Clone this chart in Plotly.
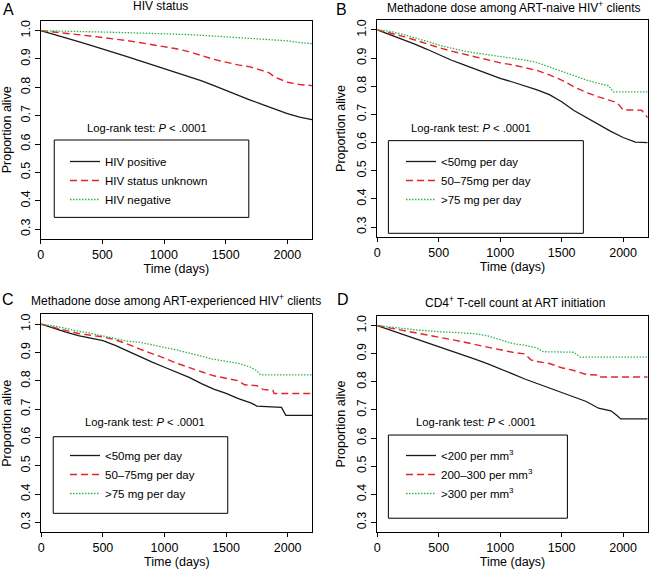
import plotly.graph_objects as go


W, H = 651, 569

# ---- Panel A: HIV status ----
A_POS_T = [0, 100, 200, 300, 400, 500, 600, 700, 800, 900, 1000, 1100, 1200,
           1300, 1400, 1500, 1600, 1700, 1800, 1900, 2000, 2100, 2200]
A_POS_S = [1.0, .988, .975, .962, .949, .936, .922, .908, .894, .880, .866,
           .853, .839, .824, .807, .789, .772, .755, .739, .723, .707, .695, .686]
A_UNK_T = [0, 100, 200, 300, 400, 500, 600, 700, 800, 900, 1000, 1100, 1200,
           1300, 1400, 1500, 1600, 1700, 1800, 1850, 1900, 2000, 2100, 2200]
A_UNK_S = [1.0, .996, .991, .986, .981, .976, .970, .965, .958, .951, .944,
           .936, .926, .913, .899, .889, .879, .872, .860, .852, .836, .818,
           .810, .806]
A_NEG_T = [0, 200, 400, 600, 800, 1000, 1200, 1400, 1600, 1800, 2000, 2100, 2200]
A_NEG_S = [1.0, .999, .996, .994, .992, .989, .986, .981, .976, .970, .964,
           .958, .954]

# ---- Panel B: dose, ART-naive ----
B_LOW_T = [0, 100, 200, 300, 400, 500, 600, 700, 800, 900, 1000, 1100, 1200,
           1300, 1400, 1500, 1600, 1700, 1800, 1900, 2000, 2100, 2200]
B_LOW_S = [1.0, .984, .966, .950, .932, .912, .893, .877, .860, .843, .828,
           .815, .801, .787, .770, .745, .714, .689, .662, .640, .618, .602, .600]
B_MID_T = [0, 100, 200, 300, 400, 500, 600, 700, 800, 900, 1000, 1100, 1200,
           1300, 1400, 1500, 1600, 1700, 1800, 1900, 1950, 2000, 2150, 2180, 2200]
B_MID_S = [1.0, .990, .978, .965, .950, .937, .925, .914, .903, .892, .883,
           .876, .866, .856, .840, .822, .798, .778, .762, .748, .742, .716,
           .715, .700, .688]
B_HIGH_T = [0, 100, 200, 300, 400, 500, 600, 700, 800, 900, 1000, 1100, 1200,
            1300, 1400, 1500, 1600, 1700, 1800, 1880, 1920, 2200]
B_HIGH_S = [1.0, .995, .985, .973, .960, .946, .935, .925, .918, .912, .906,
            .901, .893, .884, .868, .852, .836, .822, .810, .802, .780, .780]

# ---- Panel C: dose, ART-experienced ----
C_LOW_T = [0, 100, 200, 300, 400, 500, 600, 700, 800, 900, 1000, 1100, 1200,
           1300, 1400, 1500, 1600, 1700, 1750, 1950, 1970, 1985, 2200]
C_LOW_S = [1.0, .985, .972, .960, .950, .942, .925, .905, .885, .866, .848,
           .829, .812, .790, .771, .756, .737, .722, .711, .706, .690, .678, .678]
C_MID_T = [0, 100, 200, 300, 400, 500, 600, 700, 800, 900, 1000, 1100, 1200,
           1300, 1400, 1500, 1600, 1650, 1750, 1800, 1880, 1890, 2200]
C_MID_S = [1.0, .990, .978, .967, .960, .955, .945, .930, .912, .897, .880,
           .862, .846, .832, .818, .810, .800, .786, .783, .770, .766, .755, .755]
C_HIGH_T = [0, 100, 200, 300, 400, 500, 600, 700, 800, 900, 1000, 1100, 1200,
            1300, 1400, 1500, 1600, 1700, 1750, 1780, 2200]
C_HIGH_S = [1.0, .994, .985, .975, .968, .958, .948, .940, .936, .926, .918,
            .909, .899, .887, .876, .870, .862, .848, .835, .821, .821]

# ---- Panel D: CD4 count ----
D_LOW_T = [0, 100, 200, 300, 400, 500, 600, 700, 800, 900, 1000, 1100, 1200,
           1300, 1400, 1500, 1600, 1700, 1800, 1900, 1950, 1980, 2200]
D_LOW_S = [1.0, .985, .970, .955, .941, .927, .912, .897, .880, .864, .847,
           .828, .810, .794, .778, .764, .748, .730, .706, .697, .680, .668, .668]
D_MID_T = [0, 100, 200, 300, 400, 500, 600, 700, 800, 900, 1000, 1100, 1200,
           1250, 1300, 1400, 1500, 1600, 1700, 1790, 1800, 2200]
D_MID_S = [1.0, .992, .983, .975, .968, .960, .952, .942, .932, .924, .914,
           .905, .899, .878, .872, .865, .850, .840, .826, .824, .817, .817]
D_HIGH_T = [0, 100, 200, 300, 400, 500, 600, 700, 800, 900, 1000, 1100, 1200,
            1300, 1350, 1600, 1650, 2200]
D_HIGH_S = [1.0, .996, .990, .985, .981, .978, .976, .974, .971, .963, .950,
            .936, .930, .920, .907, .905, .888, .888]

PANELS = [
    dict(letter='A', title='HIV status',
         names=['HIV positive', 'HIV status unknown', 'HIV negative'],
         series=[(A_POS_T, A_POS_S), (A_UNK_T, A_UNK_S), (A_NEG_T, A_NEG_S)]),
    dict(letter='B', title='Methadone dose among ART-naive HIV<sup>+</sup> clients',
         names=['&lt;50mg per day', '50\u201375mg per day', '&gt;75 mg per day'],
         series=[(B_LOW_T, B_LOW_S), (B_MID_T, B_MID_S), (B_HIGH_T, B_HIGH_S)]),
    dict(letter='C', title='Methadone dose among ART-experienced HIV<sup>+</sup> clients',
         names=['&lt;50mg per day', '50\u201375mg per day', '&gt;75 mg per day'],
         series=[(C_LOW_T, C_LOW_S), (C_MID_T, C_MID_S), (C_HIGH_T, C_HIGH_S)]),
    dict(letter='D', title='CD4<sup>+</sup> T-cell count at ART initiation',
         names=['&lt;200 per mm<sup>3</sup>', '200\u2013300 per mm<sup>3</sup>',
                '&gt;300 per mm<sup>3</sup>'],
         series=[(D_LOW_T, D_LOW_S), (D_MID_T, D_MID_S), (D_HIGH_T, D_HIGH_S)]),
]

# plot boxes in pixels: left, right, top, bottom
BOXES = [(40.7, 312.0, 20.7, 239.0), (377.3, 647.7, 20.0, 237.0),
         (41.3, 312.3, 314.3, 532.3), (377.3, 647.7, 315.7, 532.3)]
# title centre, letter centre, legend top-left (px)
TITLE_POS = [(160, 6), (514, 7), (176, 300), (515, 302)]
LETTER_POS = [(8, 10), (342, 10), (7.5, 299.5), (342.5, 299.5)]
LEGEND_POS = [(65, 147), (401, 147), (65, 441), (401, 441)]
# legend box in axis-domain fractions: x0, x1, y0, y1
LEG_BOX = [(0.050, 0.767, 0.099, 0.4535), (0.041, 0.762, 0.017, 0.444),
           (0.044, 0.688, 0.087, 0.4385), (0.041, 0.703, 0.065, 0.449)]
LOGRANK_POS = [(0.391, 0.51), (0.346, 0.504), (0.381, 0.507), (0.364, 0.51)]

STYLES = [dict(color='#1a1a1a', width=1.3, dash='solid'),
          dict(color='#E3242B', width=1.4, dash='7px,4px'),
          dict(color='#2DB34A', width=1.3, dash='1.5px,1.5px')]

FONT = 'Liberation Sans, Arial, sans-serif'


def px_x(x):
    return x / W


def px_y(y):
    return 1 - y / H


def main():
    fig = go.Figure()
    annotations = []
    shapes = []
    layout = dict(width=W, height=H, margin=dict(l=0, r=0, t=0, b=0),
                  plot_bgcolor='white', paper_bgcolor='white',
                  font=dict(family=FONT, size=12, color='black'))

    for i, panel in enumerate(PANELS):
        n = '' if i == 0 else str(i + 1)
        leg = 'legend' + n
        for (t, s), name, st in zip(panel['series'], panel['names'], STYLES):
            fig.add_trace(go.Scatter(x=t, y=s, mode='lines', name=name,
                                     line=st, xaxis='x' + n, yaxis='y' + n,
                                     legend=leg, hoverinfo='skip'))

        left, right, top, bottom = BOXES[i]
        layout['xaxis' + n] = dict(
            domain=[px_x(left), px_x(right)], anchor='y' + n, automargin=False,
            range=[0, 2200], tickvals=[0, 500, 1000, 1500, 2000],
            ticks='outside', ticklen=4, tickcolor='black',
            showline=True, mirror=True, linecolor='black', linewidth=1,
            showgrid=False, zeroline=False,
            tickfont=dict(size=12.5),
            title=dict(text='Time (days)', font=dict(size=12.5), standoff=2))
        layout['yaxis' + n] = dict(
            domain=[px_y(bottom), px_y(top)], anchor='x' + n, automargin=False,
            range=[0.265, 1.035],
            tickvals=[0.3, 0.4, 0.5, 0.6, 0.7, 0.8, 0.9, 1.0],
            tickformat='.1f', tickangle=-90,
            ticks='outside', ticklen=5, tickcolor='black',
            showline=True, mirror=True, linecolor='black', linewidth=1,
            showgrid=False, zeroline=False,
            tickfont=dict(size=12.5),
            title=dict(text='Proportion alive', font=dict(size=12.5), standoff=6))

        lx, ly = LEGEND_POS[i]
        layout[leg] = dict(x=px_x(lx), y=px_y(ly), xanchor='left', yanchor='top',
                           bgcolor='rgba(0,0,0,0)', borderwidth=0,
                           font=dict(size=11.5), itemclick=False,
                           itemdoubleclick=False)

        bx0, bx1, by0, by1 = LEG_BOX[i]
        shapes.append(dict(type='rect', xref='x' + n + ' domain',
                           yref='y' + n + ' domain', x0=bx0, x1=bx1,
                           y0=by0, y1=by1, line=dict(color='black', width=1),
                           fillcolor='rgba(0,0,0,0)', layer='above'))

        ax, ay = LOGRANK_POS[i]
        annotations.append(dict(text='Log-rank test: <i>P</i> &lt; .0001',
                                xref='x' + n + ' domain', yref='y' + n + ' domain',
                                x=ax, y=ay, showarrow=False,
                                font=dict(size=11.2)))

        tx, ty = TITLE_POS[i]
        annotations.append(dict(text=panel['title'], xref='paper', yref='paper',
                                x=px_x(tx), y=px_y(ty), showarrow=False,
                                xanchor='center', yanchor='middle',
                                font=dict(size=12)))
        cx, cy = LETTER_POS[i]
        annotations.append(dict(text=panel['letter'], xref='paper', yref='paper',
                                x=px_x(cx), y=px_y(cy), showarrow=False,
                                xanchor='center', yanchor='middle',
                                font=dict(size=16)))

    layout['annotations'] = annotations
    layout['shapes'] = shapes
    fig.update_layout(**layout)
    # the page body has a default 8px margin; drop it so the figure fills the window
    fig.write_html("out.html", config={'displayModeBar': False},
                   post_script="document.body.style.margin='0';")


if __name__ == '__main__':
    main()
